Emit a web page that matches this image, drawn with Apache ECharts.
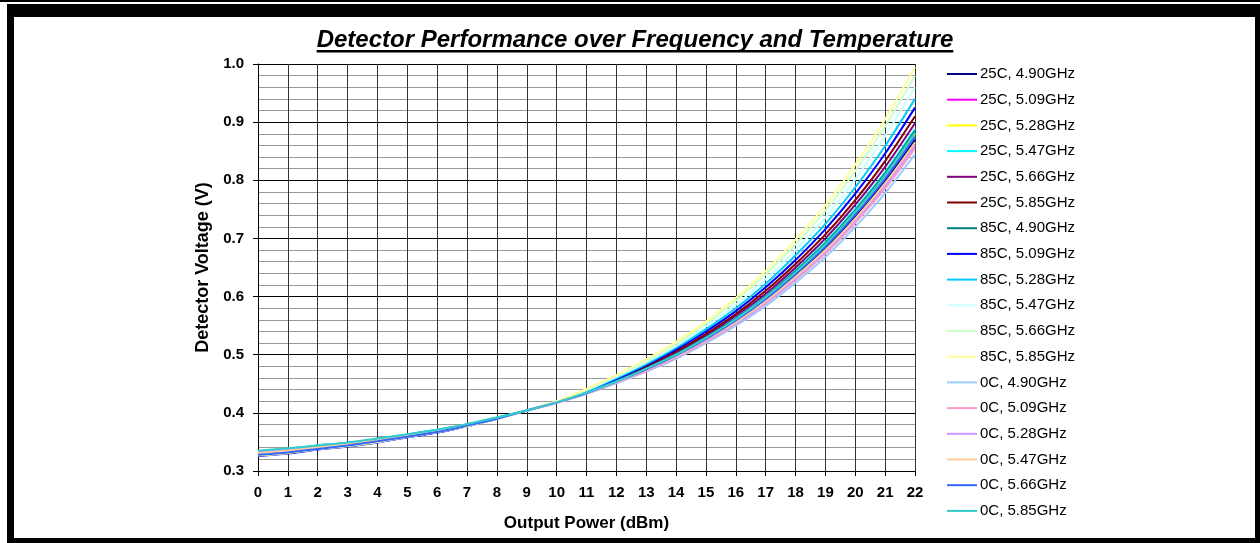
<!DOCTYPE html>
<html>
<head>
<meta charset="utf-8">
<script src="https://cdn.jsdelivr.net/npm/echarts@6/dist/echarts.min.js"></script>
<style>
  html, body { margin: 0; padding: 0; background: #fff; }
  #chart { width: 1260px; height: 543px; }
</style>
</head>
<body>
<div id="chart"></div>
<script>
// output power steps (dBm)
const powerDbm = [0, 1, 2, 3, 4, 5, 6, 7, 8, 9, 10, 11, 12, 13, 14, 15, 16, 17, 18, 19, 20, 21, 22];

const seriesNames = [
  "25C, 4.90GHz", "25C, 5.09GHz", "25C, 5.28GHz", "25C, 5.47GHz", "25C, 5.66GHz", "25C, 5.85GHz",
  "85C, 4.90GHz", "85C, 5.09GHz", "85C, 5.28GHz", "85C, 5.47GHz", "85C, 5.66GHz", "85C, 5.85GHz",
  "0C, 4.90GHz", "0C, 5.09GHz", "0C, 5.28GHz", "0C, 5.47GHz", "0C, 5.66GHz", "0C, 5.85GHz"
];

const seriesColors = [
  "#000080", "#FF00FF", "#FFFF00", "#00FFFF", "#800080", "#800000",
  "#008080", "#0000FF", "#00CCFF", "#CCFFFF", "#CCFFCC", "#FFFF99",
  "#99CCFF", "#FF99CC", "#CC99FF", "#FFCC99", "#3366FF", "#33CCCC"
];

// detector voltage (V)
const v25_490 = [0.331, 0.335, 0.341, 0.346, 0.353, 0.361, 0.369, 0.379, 0.391, 0.404, 0.418, 0.434, 0.453, 0.474, 0.498, 0.526, 0.558, 0.594, 0.636, 0.683, 0.738, 0.799, 0.870];
const v25_509 = [0.332, 0.336, 0.342, 0.347, 0.354, 0.362, 0.370, 0.379, 0.391, 0.404, 0.418, 0.434, 0.452, 0.473, 0.497, 0.524, 0.555, 0.591, 0.632, 0.679, 0.732, 0.792, 0.862];
const v25_528 = [0.329, 0.333, 0.339, 0.344, 0.352, 0.360, 0.368, 0.378, 0.391, 0.404, 0.418, 0.435, 0.454, 0.476, 0.500, 0.529, 0.561, 0.598, 0.641, 0.689, 0.745, 0.808, 0.880];
const v25_547 = [0.334, 0.338, 0.344, 0.348, 0.355, 0.363, 0.371, 0.380, 0.392, 0.404, 0.418, 0.435, 0.455, 0.477, 0.502, 0.530, 0.563, 0.601, 0.645, 0.694, 0.751, 0.814, 0.888];
const v25_566 = [0.332, 0.336, 0.342, 0.347, 0.354, 0.362, 0.370, 0.379, 0.391, 0.404, 0.418, 0.435, 0.456, 0.478, 0.504, 0.533, 0.567, 0.605, 0.650, 0.700, 0.758, 0.823, 0.898];
const v25_585 = [0.331, 0.335, 0.341, 0.346, 0.353, 0.361, 0.369, 0.379, 0.391, 0.404, 0.418, 0.436, 0.457, 0.480, 0.506, 0.536, 0.570, 0.610, 0.656, 0.707, 0.766, 0.833, 0.910];
const v85_490 = [0.329, 0.333, 0.339, 0.344, 0.352, 0.360, 0.368, 0.378, 0.391, 0.404, 0.418, 0.435, 0.455, 0.476, 0.501, 0.530, 0.562, 0.600, 0.644, 0.692, 0.748, 0.812, 0.885];
const v85_509 = [0.326, 0.330, 0.337, 0.342, 0.349, 0.358, 0.366, 0.377, 0.390, 0.404, 0.419, 0.437, 0.458, 0.482, 0.509, 0.540, 0.575, 0.616, 0.663, 0.716, 0.777, 0.846, 0.925];
const v85_528 = [0.334, 0.338, 0.344, 0.348, 0.355, 0.363, 0.371, 0.380, 0.392, 0.404, 0.419, 0.438, 0.460, 0.484, 0.512, 0.544, 0.580, 0.622, 0.671, 0.725, 0.788, 0.859, 0.940];
const v85_547 = [0.328, 0.332, 0.338, 0.344, 0.351, 0.359, 0.367, 0.378, 0.390, 0.404, 0.419, 0.439, 0.462, 0.487, 0.515, 0.549, 0.586, 0.630, 0.680, 0.736, 0.802, 0.876, 0.960];
const v85_566 = [0.327, 0.331, 0.338, 0.343, 0.350, 0.359, 0.367, 0.377, 0.390, 0.404, 0.420, 0.440, 0.464, 0.490, 0.519, 0.554, 0.593, 0.638, 0.690, 0.748, 0.816, 0.893, 0.980];
const v85_585 = [0.327, 0.331, 0.338, 0.343, 0.350, 0.359, 0.367, 0.377, 0.390, 0.404, 0.420, 0.441, 0.465, 0.492, 0.522, 0.557, 0.598, 0.644, 0.698, 0.757, 0.827, 0.905, 0.995];
const v0_490 = [0.333, 0.337, 0.343, 0.348, 0.354, 0.362, 0.370, 0.380, 0.391, 0.404, 0.417, 0.433, 0.451, 0.471, 0.493, 0.520, 0.550, 0.584, 0.624, 0.668, 0.720, 0.778, 0.845];
const v0_509 = [0.333, 0.337, 0.343, 0.348, 0.354, 0.362, 0.370, 0.380, 0.391, 0.404, 0.417, 0.433, 0.452, 0.472, 0.495, 0.522, 0.553, 0.588, 0.629, 0.674, 0.727, 0.786, 0.855];
const v0_528 = [0.332, 0.336, 0.342, 0.347, 0.354, 0.362, 0.370, 0.379, 0.391, 0.404, 0.418, 0.433, 0.452, 0.473, 0.496, 0.524, 0.554, 0.590, 0.631, 0.677, 0.731, 0.791, 0.860];
const v0_547 = [0.331, 0.335, 0.341, 0.346, 0.353, 0.361, 0.369, 0.379, 0.391, 0.404, 0.418, 0.434, 0.453, 0.474, 0.497, 0.525, 0.556, 0.592, 0.634, 0.680, 0.734, 0.795, 0.865];
const v0_566 = [0.328, 0.332, 0.338, 0.344, 0.351, 0.359, 0.367, 0.378, 0.390, 0.404, 0.418, 0.434, 0.454, 0.475, 0.499, 0.527, 0.559, 0.596, 0.639, 0.686, 0.741, 0.803, 0.875];
const v0_585 = [0.335, 0.339, 0.344, 0.349, 0.356, 0.363, 0.371, 0.381, 0.392, 0.404, 0.418, 0.435, 0.454, 0.476, 0.500, 0.529, 0.561, 0.599, 0.642, 0.690, 0.746, 0.809, 0.882];

const seriesValues = [
  v25_490, v25_509, v25_528, v25_547, v25_566, v25_585,
  v85_490, v85_509, v85_528, v85_547, v85_566, v85_585,
  v0_490, v0_509, v0_528, v0_547, v0_566, v0_585
];

const titleText = "Detector Performance over Frequency and Temperature";
const FONT = "'Liberation Sans', Arial, sans-serif";

const chart = echarts.init(document.getElementById("chart"));

// width of the title, for the underline
const ctx = document.createElement("canvas").getContext("2d");
const titleFont = "italic bold 24px " + FONT;
ctx.font = titleFont;
const titleW = ctx.measureText(titleText).width;
const titleX = 635;

const options = {
  backgroundColor: "#fff",
  animation: false,
  grid: { left: 258, right: 345, top: 64, bottom: 72 },
  legend: {
    orient: "vertical",
    left: 942,
    top: 61,
    icon: "rect",
    itemWidth: 30,
    itemHeight: 2,
    itemGap: 9.7,
    selectedMode: false,
    data: seriesNames,
    textStyle: { fontFamily: FONT, fontSize: 15, color: "#000", lineHeight: 16, padding: [0, 0, 0, -2] },
  },
  xAxis: {
    type: "value",
    min: 0,
    max: 22,
    interval: 1,
    name: "Output Power (dBm)",
    nameLocation: "middle",
    nameGap: 44,
    nameTextStyle: { fontFamily: FONT, fontSize: 17, fontWeight: "bold", color: "#000" },
    axisLine: { show: true, lineStyle: { color: "#000", width: 1 } },
    axisTick: { show: true, length: 5, lineStyle: { color: "#000" } },
    axisLabel: { margin: 14, fontFamily: FONT, fontSize: 15, fontWeight: "bold", color: "#000" },
    splitLine: { show: true, lineStyle: { color: "#333", width: 1 } },
  },
  yAxis: {
    type: "value",
    min: 0.3,
    max: 1.0,
    interval: 0.1,
    name: "Detector Voltage (V)",
    nameLocation: "middle",
    nameGap: 46,
    nameTextStyle: { fontFamily: FONT, fontSize: 18, fontWeight: "bold", color: "#000" },
    axisLine: { show: true, lineStyle: { color: "#000", width: 1 } },
    axisTick: { show: true, length: 5, lineStyle: { color: "#000" } },
    axisLabel: {
      margin: 14,
      fontFamily: FONT,
      fontSize: 15,
      fontWeight: "bold",
      color: "#000",
      formatter: (v) => v.toFixed(1),
    },
    splitLine: { show: true, lineStyle: { color: "#000", width: 1 } },
    minorTick: { show: false, splitNumber: 5 },
    minorSplitLine: { show: true, lineStyle: { color: "#999", width: 1 } },
  },
  series: seriesNames.map((name, i) => ({
    name: name,
    type: "line",
    data: powerDbm.map((p, j) => [p, seriesValues[i][j]]),
    smooth: 0.3,
    showSymbol: false,
    symbol: "none",
    color: seriesColors[i],
    lineStyle: { width: 2, color: seriesColors[i] },
  })),
  graphic: [
    // frame
    { type: "rect", shape: { x: 0, y: 0, width: 1260, height: 2 }, style: { fill: "#000" } },
    { type: "rect", shape: { x: 7, y: 4, width: 1253, height: 13 }, style: { fill: "#000" } },
    { type: "rect", shape: { x: 7, y: 4, width: 7, height: 539 }, style: { fill: "#000" } },
    { type: "rect", shape: { x: 1255, y: 4, width: 5, height: 539 }, style: { fill: "#000" } },
    { type: "rect", shape: { x: 7, y: 538, width: 1253, height: 5 }, style: { fill: "#000" } },
    // title + underline
    {
      type: "text",
      style: {
        text: titleText,
        x: titleX,
        y: 40,
        textAlign: "center",
        textVerticalAlign: "middle",
        font: titleFont,
        fill: "#000",
      },
    },
    { type: "rect", shape: { x: titleX - titleW / 2, y: 50, width: titleW, height: 2.5 }, style: { fill: "#000" } },
  ],
};

chart.setOption(options);
</script>
</body>
</html>
